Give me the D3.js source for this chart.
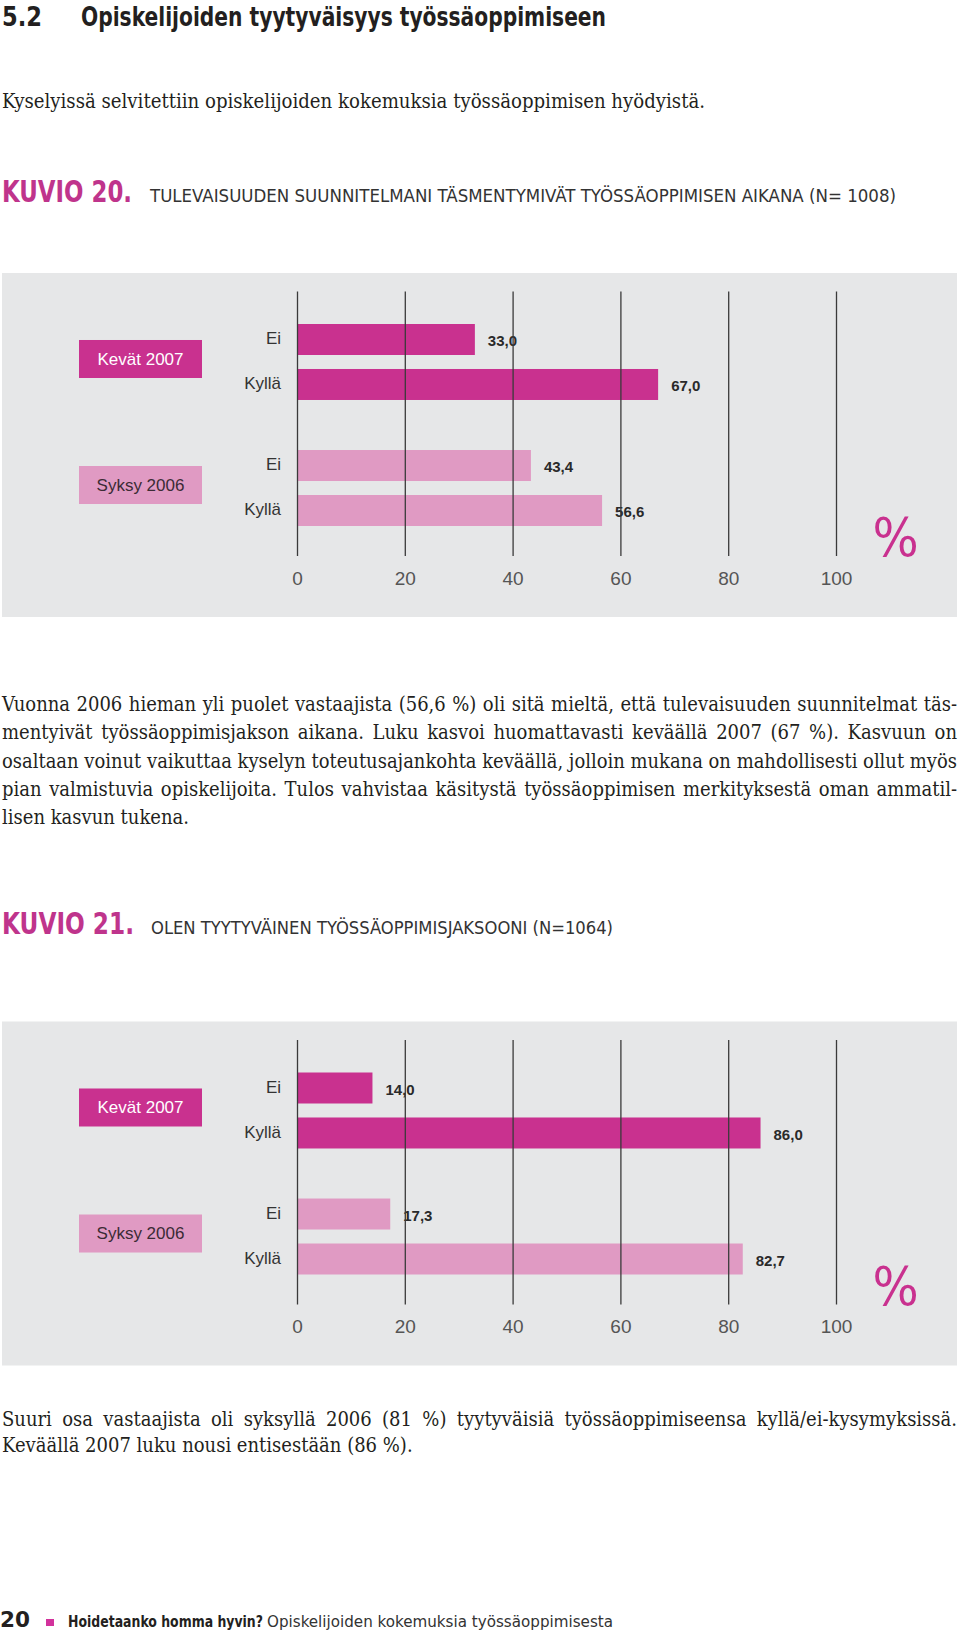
<!DOCTYPE html>
<html>
<head>
<meta charset="utf-8">
<script src="https://cdn.jsdelivr.net/npm/d3@7"></script>
<style>
body { margin: 0; background: #fff; }
</style>
</head>
<body>
<div id="page"></div>
<script>
/* global d3 */

// Page
const width = 960,
  height = 1636

// Data
const categories = ['Ei', 'Kyllä']
const groups = ['Kevät 2007', 'Syksy 2006']
const kuvio20Kevat = [33.0, 67.0]
const kuvio20Syksy = [43.4, 56.6]
const kuvio21Kevat = [14.0, 86.0]
const kuvio21Syksy = [17.3, 82.7]
const tickValues = [0, 20, 40, 60, 80, 100]

const para1 = [
  'Vuonna 2006 hieman yli puolet vastaajista (56,6 %) oli sitä mieltä, että tulevaisuuden suunnitelmat täs-',
  'mentyivät työssäoppimisjakson aikana. Luku kasvoi huomattavasti keväällä 2007 (67 %). Kasvuun on',
  'osaltaan voinut vaikuttaa kyselyn toteutusajankohta keväällä, jolloin mukana on mahdollisesti ollut myös',
  'pian valmistuvia opiskelijoita. Tulos vahvistaa käsitystä työssäoppimisen merkityksestä oman ammatil-',
  'lisen kasvun tukena.'
]
const para2 = [
  'Suuri osa vastaajista oli syksyllä 2006 (81 %) tyytyväisiä työssäoppimiseensa kyllä/ei-kysymyksissä.',
  'Keväällä 2007 luku nousi entisestään (86 %).'
]

// Styles
const dark = '#c9318f',
  light = '#e09ac3',
  panelBg = '#e6e7e8',
  ink = '#231f20',
  headMagenta = '#bf348c'
const narrow = '"Liberation Sans Narrow", "DejaVu Sans Condensed", sans-serif'
const sans = '"Liberation Sans", Arial, sans-serif'
const serif = '"DejaVu Serif Condensed", "DejaVu Serif", serif'

let svg = d3.select('#page')
  .append('svg')
  .attr('width', width)
  .attr('height', height)

// small text helper
let label = (x, y, str, family, size, opts = {}) => {
  let t = svg.append('text')
    .attr('x', x)
    .attr('y', y)
    .attr('font-family', family)
    .attr('font-size', size)
    .attr('font-weight', opts.weight || 'normal')
    .attr('fill', opts.fill || ink)
    .text(str)
  if (opts.len) {
    t.attr('textLength', opts.len).attr('lengthAdjust', 'spacingAndGlyphs')
  }
  return t
}

// justified paragraph, last line left free
let paragraph = (lines, y0, lineH, x0, x1) => {
  lines.forEach((line, i) => {
    let t = label(x0, y0 + i * lineH, line, serif, 20)
    if (i === lines.length - 1) return
    let target = x1 - x0
    let w = t.node().getComputedTextLength()
    let spaces = (line.match(/ /g) || []).length
    if (w < target) {
      t.style('word-spacing', ((target - w) / spaces) + 'px')
    } else {
      t.attr('textLength', target).attr('lengthAdjust', 'spacingAndGlyphs')
    }
  })
}

let fmt = v => d3.format('.1f')(v).replace('.', ',')

// one bar chart panel
let drawChart = (top, kevat, syksy) => {
  let x = d3.scaleLinear().domain([0, 100]).range([297, 836])
  let groupY = d3.scaleBand().domain(groups).range([top + 51, top + 253]).paddingInner(0.397)
  let catY = d3.scaleBand().domain(categories).range([0, groupY.bandwidth()]).paddingInner(0.311)
  let series = [kevat, syksy]

  let rows = []
  groups.forEach((g, gi) => {
    categories.forEach((c, ci) => {
      rows.push({ group: g, gi: gi, cat: c, value: series[gi][ci] })
    })
  })
  let barY = d => groupY(d.group) + catY(d.cat)
  let barMid = d => barY(d) + catY.bandwidth() / 2

  svg.append('rect')
    .attr('x', 2)
    .attr('y', top)
    .attr('width', 955)
    .attr('height', 344)
    .attr('fill', panelBg)

  // group boxes
  let boxes = svg.append('g')
  boxes.selectAll('rect')
    .data(groups)
    .enter()
    .append('rect')
    .attr('x', 79)
    .attr('y', d => groupY(d) + groupY.bandwidth() / 2 - 22)
    .attr('width', 123)
    .attr('height', 38)
    .attr('fill', (d, i) => i === 0 ? dark : light)
  boxes.selectAll('text')
    .data(groups)
    .enter()
    .append('text')
    .attr('x', 140.5)
    .attr('y', d => groupY(d) + groupY.bandwidth() / 2 - 3)
    .attr('dy', '0.35em')
    .attr('text-anchor', 'middle')
    .attr('font-family', sans)
    .attr('font-size', 17)
    .attr('fill', (d, i) => i === 0 ? '#fff' : '#3b2b35')
    .text(d => d)

  // category labels
  svg.append('g').selectAll('text')
    .data(rows)
    .enter()
    .append('text')
    .attr('x', 281)
    .attr('y', d => barMid(d) - 1)
    .attr('dy', '0.35em')
    .attr('text-anchor', 'end')
    .attr('font-family', sans)
    .attr('font-size', 17)
    .attr('fill', '#333')
    .text(d => d.cat)

  // bars
  svg.append('g').selectAll('rect')
    .data(rows)
    .enter()
    .append('rect')
    .attr('x', x(0))
    .attr('y', barY)
    .attr('width', d => x(d.value) - x(0))
    .attr('height', catY.bandwidth())
    .attr('fill', d => d.gi === 0 ? dark : light)

  // values
  svg.append('g').selectAll('text')
    .data(rows)
    .enter()
    .append('text')
    .attr('x', d => x(d.value) + 13)
    .attr('y', d => barMid(d) + 1.5)
    .attr('dy', '0.35em')
    .attr('font-family', sans)
    .attr('font-size', 15)
    .attr('font-weight', 'bold')
    .attr('fill', '#2a2a2a')
    .text(d => fmt(d.value))

  // grid + ticks, on top of the bars
  let axis = svg.append('g')
    .attr('transform', `translate(0, ${top + 283})`)
    .call(d3.axisBottom(x).tickValues(tickValues).tickSize(-264.5).tickPadding(15.5))
  axis.select('.domain').remove()
  axis.selectAll('line').attr('stroke', '#3a3a3a').attr('stroke-width', 1.3)
  axis.selectAll('text')
    .attr('font-family', sans)
    .attr('font-size', 19)
    .attr('fill', '#555')

  label(895.5, top + 283, '%', narrow, 54, { fill: dark })
    .attr('text-anchor', 'middle')
}

// Heading
label(2, 26, '5.2', narrow, 27, { weight: 'bold', len: 40 })
label(81, 26, 'Opiskelijoiden tyytyväisyys työssäoppimiseen', narrow, 27, { weight: 'bold', len: 525 })
label(2, 108, 'Kyselyissä selvitettiin opiskelijoiden kokemuksia työssäoppimisen hyödyistä.', serif, 20, { len: 703 })

// Kuvio 20
label(2, 202, 'KUVIO 20.', narrow, 30, { weight: 'bold', fill: headMagenta, len: 130 })
label(150, 202, 'TULEVAISUUDEN SUUNNITELMANI TÄSMENTYMIVÄT TYÖSSÄOPPIMISEN AIKANA (N= 1008)', narrow, 18, { fill: '#333', len: 746 })
drawChart(273, kuvio20Kevat, kuvio20Syksy)
paragraph(para1, 711, 28.3, 2, 957)

// Kuvio 21
label(2, 934, 'KUVIO 21.', narrow, 30, { weight: 'bold', fill: headMagenta, len: 132 })
label(151, 934, 'OLEN TYYTYVÄINEN TYÖSSÄOPPIMISJAKSOONI (N=1064)', narrow, 18, { fill: '#333', len: 462 })
drawChart(1021.5, kuvio21Kevat, kuvio21Syksy)
paragraph(para2, 1426, 26, 2, 957)

// Footer
label(0, 1627, '20', narrow, 21, { weight: 'bold', len: 30 })
svg.append('rect')
  .attr('x', 46)
  .attr('y', 1619)
  .attr('width', 8)
  .attr('height', 7)
  .attr('fill', '#d2329c')
label(68, 1627, 'Hoidetaanko homma hyvin?', narrow, 15.5, { weight: 'bold', len: 195 })
label(267, 1627, 'Opiskelijoiden kokemuksia työssäoppimisesta', narrow, 15.5, { fill: '#333', len: 346 })
</script>
</body>
</html>
